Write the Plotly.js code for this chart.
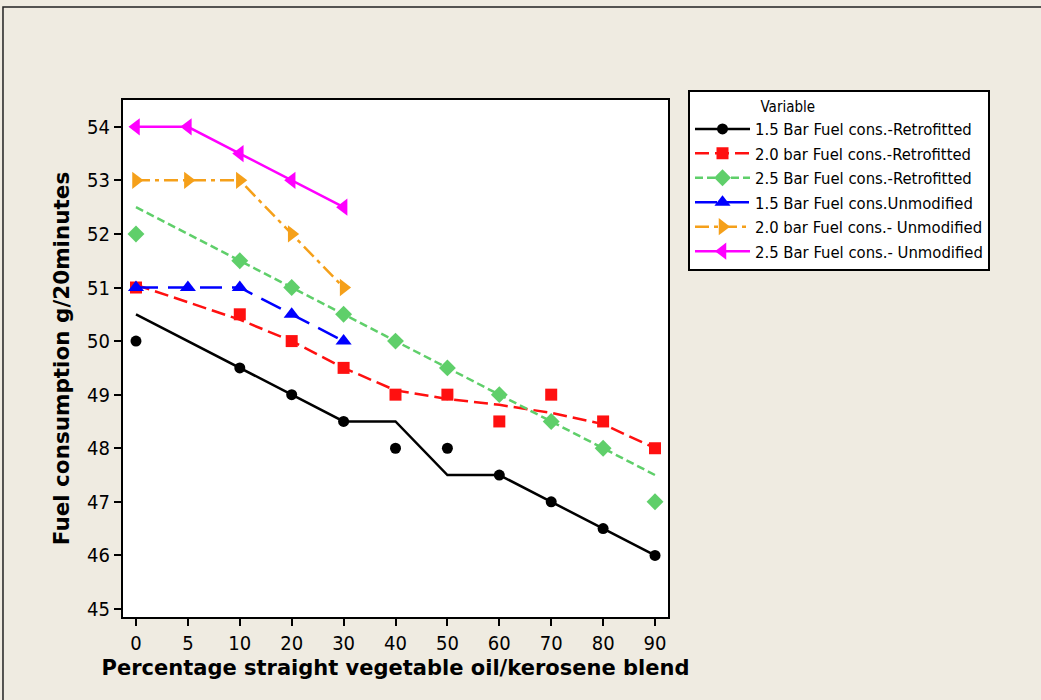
<!DOCTYPE html>
<html>
<head>
<meta charset="utf-8">
<script src="https://cdn.plot.ly/plotly-3.0.1.min.js"></script>
<style>html,body{margin:0;padding:0;background:#efebe1;}</style>
</head>
<body>
<div id="chart" style="width:1041px;height:700px;"></div>
<script>
// Categories
const xAll = ['0','5','10','20','30','40','50','60','70','80','90'];
const xRetro = ['0','10','20','30','40','50','60','70','80','90'];
const xUnmod = ['0','5','10','20','30'];

// Retrofitted observed values
const b15Retro = [50, 49.5, 49, 48.5, 48, 48, 47.5, 47, 46.5, 46];
const b20Retro = [51, 50.5, 50, 49.5, 49, 49, 48.5, 49, 48.5, 48];
const b25Retro = [52, 51.5, 51, 50.5, 50, 49.5, 49, 48.5, 48, 47];
// Retrofitted fitted (smoothed) lines
const b15RetroFit = [50.5, 49.5, 49, 48.5, 48.5, 47.5, 47.5, 47, 46.5, 46];
const b20RetroFit = [51.05, 50.4, 50, 49.5, 49.08, 48.92, 48.81, 48.66, 48.45, 48.0];
const b25RetroFit = [52.5, 51.5, 51, 50.5, 50, 49.5, 49, 48.5, 48, 47.5];

// Unmodified values
const b15Unmod = [51, 51, 51, 50.5, 50];
const b20Unmod = [53, 53, 53, 52, 51];
const b25Unmod = [54, 54, 53.5, 53, 52.5];

const names = ['1.5 Bar Fuel cons.-Retrofitted','2.0 bar Fuel cons.-Retrofitted','2.5 Bar Fuel cons.-Retrofitted',
  '1.5 Bar Fuel cons.Unmodified','2.0 bar Fuel cons.- Unmodified','2.5 Bar Fuel cons.- Unmodified'];
const colors = ['#000000','#ff1010','#5fcf6a','#0000ff','#f5a01a','#ff00ff'];
const symbols = ['circle','square','diamond','triangle-up','triangle-right','triangle-left'];
const dashes = ['solid','14px,6px','8px,4px','22px,10px','14px,5px,4px,5px','solid'];
const msize = [11,12,13,14,15,15];

const traces = [];
const retro = [[b15Retro,b15RetroFit],[b20Retro,b20RetroFit],[b25Retro,b25RetroFit]];
retro.forEach((d,i)=>{
  traces.push({x:xRetro,y:d[1],type:'scatter',mode:'lines',showlegend:false,
    line:{color:colors[i],width:2.5,dash:dashes[i]}});
  traces.push({x:xRetro,y:d[0],type:'scatter',mode:'markers',showlegend:false,
    marker:{color:colors[i],symbol:symbols[i],size:msize[i]}});
});
const unmod = [b15Unmod,b20Unmod,b25Unmod];
unmod.forEach((d,j)=>{
  const i=j+3;
  traces.push({x:xUnmod,y:d,type:'scatter',mode:'lines+markers',showlegend:false,
    line:{color:colors[i],width:2.5,dash:dashes[i]},
    marker:{color:colors[i],symbol:symbols[i],size:msize[i]}});
});
// legend entries
names.forEach((n,i)=>{
  traces.push({x:[null],y:[null],type:'scatter',mode:'lines+markers',name:n,
    line:{color:colors[i],width:2.5,dash:dashes[i]},
    marker:{color:colors[i],symbol:symbols[i],size:msize[i]}});
});

const layout = {
  width:1041,height:700,
  paper_bgcolor:'#efebe1',plot_bgcolor:'#ffffff',
  margin:{l:123,r:373,t:100,b:83},
  font:{family:'DejaVu Sans',color:'#000'},
  xaxis:{type:'category',categoryorder:'array',categoryarray:xAll,range:[-0.25,10.25],
    showgrid:false,zeroline:false,showline:true,linecolor:'#000',linewidth:2,mirror:true,
    ticks:'outside',ticklen:7,tickwidth:2,tickcolor:'#000',
    tickfont:{family:'DejaVu Sans Condensed, DejaVu Sans',size:20},
    title:{text:'<b>Percentage straight vegetable oil/kerosene blend</b>',font:{family:'DejaVu Sans',size:21},standoff:6}},
  yaxis:{range:[44.85,54.5],dtick:1,tick0:45,
    showgrid:false,zeroline:false,showline:true,linecolor:'#000',linewidth:2,mirror:true,
    ticks:'outside',ticklen:7,tickwidth:2,tickcolor:'#000',
    tickfont:{family:'DejaVu Sans Condensed, DejaVu Sans',size:20},
    title:{text:'<b>Fuel consumption g/20minutes</b>',font:{family:'DejaVu Sans',size:21.5},standoff:12}},
  legend:{x:1.0367,y:1.019,xanchor:'left',yanchor:'top',bgcolor:'#ffffff',bordercolor:'#000',borderwidth:2,
    font:{family:'DejaVu Sans Condensed, DejaVu Sans',size:16.5},itemwidth:55,tracegroupgap:0,
    title:{text:'                Variable',font:{family:'DejaVu Sans Condensed, DejaVu Sans',size:15}}},
  shapes:[{type:'rect',xref:'paper',yref:'paper',x0:-0.2202,x1:1.8,y0:-0.3,y1:1.1799,
    line:{color:'#222',width:1.5},fillcolor:'rgba(0,0,0,0)',layer:'below'}]
};
Plotly.newPlot('chart',traces,layout,{displayModeBar:false,staticPlot:true});
</script>
</body>
</html>
